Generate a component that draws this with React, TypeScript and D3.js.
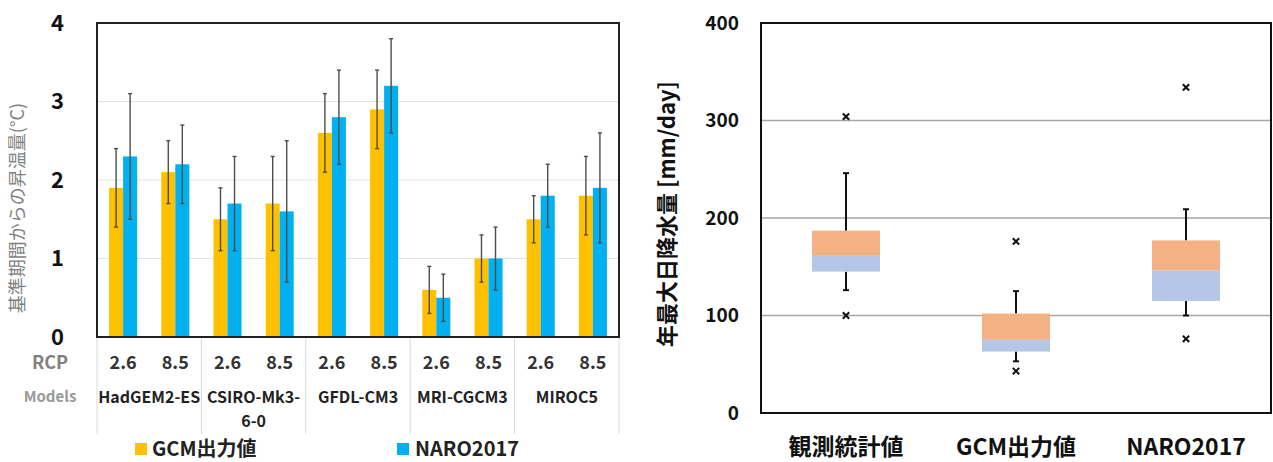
import React from 'react';
import * as d3 from 'd3';

// left chart: warming per model / RCP
const models = ['HadGEM2-ES', 'CSIRO-Mk3-6-0', 'GFDL-CM3', 'MRI-CGCM3', 'MIROC5'];
const modelLines = [['HadGEM2-ES'], ['CSIRO-Mk3-', '6-0'], ['GFDL-CM3'], ['MRI-CGCM3'], ['MIROC5']];
const rcps = ['2.6', '8.5'];
const gcmMean = [1.9, 2.1, 1.5, 1.7, 2.6, 2.9, 0.6, 1.0, 1.5, 1.8];
const gcmLow = [1.4, 1.7, 1.1, 1.1, 2.1, 2.4, 0.3, 0.7, 1.2, 1.3];
const gcmHigh = [2.4, 2.5, 1.9, 2.3, 3.1, 3.4, 0.9, 1.3, 1.8, 2.3];
const naroMean = [2.3, 2.2, 1.7, 1.6, 2.8, 3.2, 0.5, 1.0, 1.8, 1.9];
const naroLow = [1.5, 1.7, 1.1, 0.7, 2.2, 2.6, 0.2, 0.6, 1.4, 1.2];
const naroHigh = [3.1, 2.7, 2.3, 2.5, 3.4, 3.8, 0.8, 1.4, 2.2, 2.6];
const leftTicks = [0, 1, 2, 3, 4];

// right chart: annual max daily precipitation box plots
const boxCats = ['観測統計値', 'GCM出力値', 'NARO2017'];
const boxMin = [126, 53, 100];
const boxQ1 = [145, 63, 115];
const boxMed = [162, 75, 146];
const boxQ3 = [187, 102, 177];
const boxMax = [246, 125, 209];
const boxOutliers = [[304, 100], [176, 43], [334, 76]];
const rightTicks = [0, 100, 200, 300, 400];

const YELLOW = '#FFC000';
const BLUE = '#00B0F0';
const ORANGE = '#F4B183';
const LBLUE = '#B4C7E7';
const FONT = '"Noto Sans CJK JP", "Noto Sans", sans-serif';

const App = () => {
  // left scales
  const groups = d3.range(10).map(String);
  const x0 = d3.scaleBand().domain(groups).range([97, 619]);
  const xm = d3.scaleBand().domain(models).range([97, 619]);
  const x1 = d3.scaleBand().domain(['gcm', 'naro']).range([0, x0.bandwidth()]).paddingOuter(0.86);
  const yL = d3.scaleLinear().domain([0, 4]).range([337, 23]);

  // right scales
  const xR = d3.scaleBand().domain(boxCats).range([761, 1271]);
  const yR = d3.scaleLinear().domain([0, 400]).range([413, 23]);
  const boxW = xR.bandwidth() * 0.4;
  const cross = d3.symbol(d3.symbolX, 28)();

  const series = [
    { key: 'gcm', color: YELLOW, mean: gcmMean, low: gcmLow, high: gcmHigh },
    { key: 'naro', color: BLUE, mean: naroMean, low: naroLow, high: naroHigh },
  ];

  return (
    <svg width={1273} height={462} style={{ position: 'absolute', left: 0, top: 0 }} fontFamily={FONT}>
      <rect width={1273} height={462} fill="#fff" />

      {/* ---------- left chart ---------- */}
      {leftTicks.filter(t => t > 0 && t < 4).map(t => (
        <line key={t} x1={97} x2={619} y1={yL(t)} y2={yL(t)} stroke="#e3e3e3" strokeWidth={1.2} />
      ))}
      {leftTicks.map(t => (
        <text key={t} x={64} y={yL(t)} dy="0.36em" textAnchor="end" fontSize={22} fontWeight="bold" fill="#111">{t}</text>
      ))}
      <text transform={`translate(18,208) rotate(-90)`} textAnchor="middle" dy="0.35em" fontSize={18} fill="#7f7f7f">基準期間からの昇温量(°C)</text>

      {groups.map((g, i) => (
        <g key={g} transform={`translate(${x0(g)},0)`}>
          {series.map(s => (
            <rect key={s.key} x={x1(s.key)} width={x1.bandwidth()} y={yL(s.mean[i])} height={yL(0) - yL(s.mean[i])} fill={s.color} />
          ))}
          {series.map(s => {
            const cx = (x1(s.key) as number) + x1.bandwidth() / 2;
            return (
              <g key={s.key} stroke="#4d4d4d" strokeWidth={1.4}>
                <line x1={cx} x2={cx} y1={yL(s.high[i])} y2={yL(s.low[i])} />
                <line x1={cx - 2} x2={cx + 2} y1={yL(s.high[i])} y2={yL(s.high[i])} />
                <line x1={cx - 2} x2={cx + 2} y1={yL(s.low[i])} y2={yL(s.low[i])} />
              </g>
            );
          })}
          <text x={x0.bandwidth() / 2} y={363} dy="0.35em" textAnchor="middle" fontSize={18} fontWeight="bold" fill="#333">{rcps[i % 2]}</text>
        </g>
      ))}
      <path d="M97,23V337H619V23Z" fill="none" stroke="#222" strokeWidth={2} />

      {/* category table */}
      {[...models.map(m => xm(m) as number), 619].map((x, i) => (
        <line key={i} x1={x} x2={x} y1={338} y2={434} stroke="#d9d9d9" strokeWidth={1} />
      ))}
      {models.map((m, i) => (
        <text key={m} x={(xm(m) as number) + xm.bandwidth() / 2} y={397} textAnchor="middle" fontSize={16} fontWeight="bold" fill="#222">
          {modelLines[i].map((l, j) => (
            <tspan key={j} x={(xm(m) as number) + xm.bandwidth() / 2} dy={j === 0 ? '0.35em' : '1.55em'}>{l}</tspan>
          ))}
        </text>
      ))}
      <text x={50} y={363} dy="0.35em" textAnchor="middle" fontSize={18} fontWeight="bold" fill="#808080">RCP</text>
      <text x={50} y={397} dy="0.35em" textAnchor="middle" fontSize={15} fontWeight={600} fill="#999">Models</text>

      {/* legend */}
      <rect x={135} y={443} width={12} height={12} fill={YELLOW} />
      <text x={152} y={449} dy="0.36em" fontSize={20} fontWeight="bold" fill="#222">GCM出力値</text>
      <rect x={397} y={443} width={12} height={12} fill={BLUE} />
      <text x={415} y={449} dy="0.36em" fontSize={20} fontWeight="bold" fill="#222">NARO2017</text>

      {/* ---------- right chart ---------- */}
      {rightTicks.filter(t => t > 0 && t < 400).map(t => (
        <line key={t} x1={761} x2={1271} y1={yR(t)} y2={yR(t)} stroke="#a6a6a6" strokeWidth={1.5} />
      ))}
      {rightTicks.map(t => (
        <text key={t} x={739} y={yR(t)} dy="0.36em" textAnchor="end" fontSize={19} fontWeight="bold" fill="#111">{t}</text>
      ))}
      <text transform={`translate(667,214) rotate(-90)`} textAnchor="middle" dy="0.35em" fontSize={22} fontWeight="bold" fill="#111">年最大日降水量 [mm/day]</text>

      {boxCats.map((c, i) => {
        const cx = (xR(c) as number) + xR.bandwidth() / 2;
        return (
          <g key={c}>
            <g stroke="#111" strokeWidth={2}>
              <line x1={cx} x2={cx} y1={yR(boxMax[i])} y2={yR(boxQ3[i])} />
              <line x1={cx} x2={cx} y1={yR(boxQ1[i])} y2={yR(boxMin[i])} />
              <line x1={cx - 3} x2={cx + 3} y1={yR(boxMax[i])} y2={yR(boxMax[i])} />
              <line x1={cx - 3} x2={cx + 3} y1={yR(boxMin[i])} y2={yR(boxMin[i])} />
            </g>
            <rect x={cx - boxW / 2} width={boxW} y={yR(boxQ3[i])} height={yR(boxMed[i]) - yR(boxQ3[i])} fill={ORANGE} />
            <rect x={cx - boxW / 2} width={boxW} y={yR(boxMed[i])} height={yR(boxQ1[i]) - yR(boxMed[i])} fill={LBLUE} />
            {boxOutliers[i].map((o, j) => (
              <path key={j} d={cross as string} transform={`translate(${cx},${yR(o)})`} fill="none" stroke="#111" strokeWidth={2} />
            ))}
            <text x={cx} y={447} dy="0.36em" textAnchor="middle" fontSize={23} fontWeight="bold" fill="#111">{c}</text>
          </g>
        );
      })}
      <path d="M761,23V413H1271V23Z" fill="none" stroke="#111" strokeWidth={2} />
    </svg>
  );
};

export default App;
